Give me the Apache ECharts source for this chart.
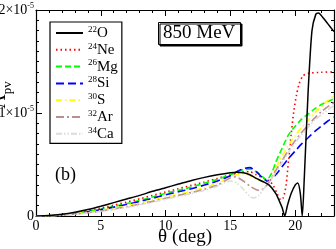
<!DOCTYPE html>
<html><head><meta charset="utf-8">
<script src="https://cdn.jsdelivr.net/npm/echarts@6/dist/echarts.min.js"></script>
<style>html,body{margin:0;padding:0;background:#fff}#c{width:336px;height:249px}</style>
</head><body><div id="c"></div>
<script>
// values of A_pv in units of 1e-5, theta in degrees
const theta22O = [0,1,2,3,4,5,6,7,8,9,10,11,12,13,14,15,15.5,16,16.5,17,17.5,18,18.5,18.8,19,19.2,19.4,19.7,20,20.2,20.4,20.55,20.7,21,21.3,21.6,21.8,22,22.5,23];
const apv22O   = [0,0.004,0.016,0.036,0.063,0.095,0.13,0.165,0.2,0.24,0.275,0.31,0.345,0.375,0.4,0.42,0.425,0.42,0.4,0.365,0.335,0.3,0.22,0.14,0.08,0,0.1,0.22,0.3,0.32,0.22,0,0.35,1.2,1.8,1.96,1.97,1.95,1.87,1.79];
const theta24Ne = [0,1,2,3,4,5,6,7,8,9,10,11,12,13,14,15,15.5,16,16.5,17,17.5,18,18.3,18.6,18.9,19.1,19.3,19.5,19.7,19.9,20.1,20.3,20.6,21,22,23];
const apv24Ne   = [0,0.003,0.012,0.028,0.05,0.076,0.105,0.135,0.167,0.2,0.233,0.265,0.298,0.33,0.365,0.4,0.415,0.43,0.43,0.4,0.37,0.34,0.3,0.22,0.155,0.18,0.3,0.55,0.8,1.02,1.17,1.28,1.36,1.385,1.395,1.4];
const theta26Mg = [0,1,2,3,4,5,6,7,8,9,10,11,12,13,14,15,15.5,16,16.5,17,17.5,17.8,18.2,18.5,19,19.5,20,20.5,21,21.5,22,22.5,23];
const apv26Mg   = [0,0.003,0.011,0.025,0.045,0.066,0.092,0.12,0.15,0.185,0.22,0.25,0.282,0.318,0.357,0.4,0.43,0.45,0.455,0.43,0.38,0.35,0.42,0.52,0.66,0.79,0.87,0.94,0.99,1.04,1.08,1.11,1.14];
const theta28Si = [0,1,2,3,4,5,6,7,8,9,10,11,12,13,14,15,15.5,16,16.5,17,17.5,17.9,18.5,19,19.5,20,20.5,21,21.5,22,22.5,23];
const apv28Si   = [0,0.003,0.01,0.023,0.042,0.062,0.086,0.112,0.14,0.172,0.205,0.235,0.265,0.3,0.34,0.39,0.43,0.46,0.47,0.43,0.37,0.335,0.4,0.48,0.56,0.63,0.7,0.76,0.82,0.87,0.92,0.96];
const theta30S = [0,1,2,3,4,5,6,7,8,9,10,11,12,13,14,15,15.5,16,16.5,17,17.5,18,18.5,19,19.5,20,20.5,21,21.5,22,22.5,23];
const apv30S   = [0,0.002,0.009,0.02,0.036,0.054,0.076,0.1,0.127,0.155,0.185,0.21,0.24,0.275,0.32,0.37,0.4,0.41,0.395,0.36,0.335,0.33,0.46,0.58,0.69,0.78,0.86,0.93,1.0,1.06,1.12,1.17];
const theta32Ar = [0,1,2,3,4,5,6,7,8,9,10,11,12,13,14,15,15.4,16,16.5,17,17.3,17.6,18,18.5,19,19.5,20,20.5,21,21.5,22,22.5,23];
const apv32Ar   = [0,0.002,0.008,0.018,0.032,0.048,0.068,0.09,0.115,0.142,0.172,0.2,0.228,0.26,0.3,0.37,0.38,0.34,0.29,0.255,0.25,0.27,0.33,0.44,0.54,0.64,0.73,0.81,0.88,0.95,1.01,1.06,1.1];
const theta34Ca = [0,1,2,3,4,5,6,7,8,9,10,11,12,13,14,14.5,15,15.5,16,16.5,16.8,17.2,17.6,18,18.5,19,19.5,20,20.5,21,21.5,22,22.5,23];
const apv34Ca   = [0,0.002,0.007,0.016,0.029,0.044,0.063,0.084,0.108,0.134,0.163,0.19,0.218,0.25,0.29,0.32,0.34,0.32,0.26,0.19,0.175,0.2,0.27,0.33,0.42,0.52,0.62,0.71,0.79,0.86,0.93,0.98,1.03,1.07];
const xTicks = [0,5,10,15,20];
const yTicks = [0,1,2];

const SERIF = 'Liberation Serif';
function zip(a,b){return a.map((v,i)=>[v,b[i]]);}
const defs = [
  {name:'22O', x:theta22O, y:apv22O, color:'#000000', type:'solid', w:1.5},
  {name:'24Ne', x:theta24Ne, y:apv24Ne, color:'#ff0000', type:[1.5,3], w:1.6},
  {name:'26Mg', x:theta26Mg, y:apv26Mg, color:'#00ff00', type:[6,3], w:1.6},
  {name:'28Si', x:theta28Si, y:apv28Si, color:'#0000ff', type:[8,4], w:1.6},
  {name:'30S', x:theta30S, y:apv30S, color:'#ffff00', type:[6,3,1.5,3], w:1.6},
  {name:'32Ar', x:theta32Ar, y:apv32Ar, color:'#bc8f8f', type:[8,3,2,3], w:1.6},
  {name:'34Ca', x:theta34Ca, y:apv34Ca, color:'#dcdcdc', type:[6,2,1.5,2,1.5,2], w:1.6}
];
const series = defs.map(d=>({
  name:d.name, type:'line', data:zip(d.x,d.y), symbol:'none', smooth:0.25,
  xAxisIndex:0, yAxisIndex:0,
  lineStyle:{color:d.color, type:d.type, width:d.w}, itemStyle:{color:d.color},
  emphasis:{disabled:true}, animation:false, z: d.name==='22O'?3:2
}));
const axCommon = {
  axisLine:{onZero:false, lineStyle:{color:'#000', width:1.2}},
  splitLine:{show:false},
  axisTick:{inside:true, length:6, lineStyle:{color:'#000'}}
};
const chart = echarts.init(document.getElementById('c'), null, {renderer:'canvas'});
chart.setOption({
  animation:false,
  grid:{left:36, top:10, right:2, bottom:33, outerBoundsMode:'none', containLabel:false},
  title:[
    {text:'850 MeV', left:158, top:22, padding:[2,5], borderColor:'#000', borderWidth:1,
     backgroundColor:'#fff', shadowColor:'#000', shadowOffsetX:1.5, shadowOffsetY:1.5, shadowBlur:0,
     textStyle:{fontFamily:SERIF, fontSize:19, fontWeight:'normal', color:'#000'}},
    {text:'(b)', left:55, top:166, padding:0,
     textStyle:{fontFamily:SERIF, fontSize:18, fontWeight:'normal', color:'#000'}}
  ],
  legend:{
    left:50, top:22, orient:'vertical', itemWidth:27, itemHeight:14, itemGap:1.3,
    padding:[3,4,2,5], borderColor:'#000', borderWidth:1.2, backgroundColor:'#fff',
    selectedMode:false, itemStyle:{opacity:0},
    data:defs.map(d=>d.name),
    formatter:n=>{const m=n.match(/^(\d+)(\D+)$/);return '{s|'+m[1]+'}{n|'+m[2]+'}';},
    textStyle:{fontFamily:SERIF, color:'#000', rich:{
      s:{fontFamily:SERIF, fontSize:9, padding:[0,0,7,0], color:'#000'},
      n:{fontFamily:SERIF, fontSize:15, color:'#000', lineHeight:14}
    }}
  },
  xAxis:[
    Object.assign({type:'value', min:0, max:23, interval:5, position:'bottom',
      name:'θ (deg)', nameLocation:'middle', nameGap:12, nameMoveOverlap:false,
      nameTextStyle:{fontFamily:SERIF, fontSize:19, color:'#000'},
      axisLabel:{fontFamily:SERIF, fontSize:14, color:'#000', margin:3, showMaxLabel:false,
        formatter:v=>xTicks.includes(v)?String(v):''}}, axCommon,
      {minorTick:{show:true, length:3, splitNumber:5, lineStyle:{color:'#000'}}}),
    Object.assign({type:'value', min:0, max:23, interval:5, position:'top',
      axisLabel:{show:false}}, axCommon,
      {minorTick:{show:true, length:3, splitNumber:5, lineStyle:{color:'#000'}}})
  ],
  yAxis:[
    Object.assign({type:'value', min:0, max:2, interval:1, position:'left',
      name:'{a|A}{b|pv}', nameLocation:'middle', nameRotate:90, nameGap:22, nameMoveOverlap:false,
      nameTextStyle:{padding:[0,0,0,36], rich:{
        a:{fontFamily:SERIF, fontSize:20, color:'#000'},
        b:{fontFamily:SERIF, fontSize:13, color:'#000', padding:[0,0,0,0], verticalAlign:'bottom', lineHeight:28}}},
      axisLabel:{fontFamily:SERIF, fontSize:14, color:'#000', margin:2,
        formatter:v=>yTicks.includes(v)?(v===0?'{m|0}':'{m|'+v+'×10}{e|-5}'):'',
        rich:{m:{fontFamily:SERIF, fontSize:14, color:'#000'},
              e:{fontFamily:SERIF, fontSize:8, color:'#000', padding:[0,0,8,0]}}}}, axCommon,
      {minorTick:{show:true, length:3, splitNumber:10, lineStyle:{color:'#000'}}}),
    Object.assign({type:'value', min:0, max:2, interval:1, position:'right',
      axisLabel:{show:false}}, axCommon,
      {minorTick:{show:true, length:3, splitNumber:10, lineStyle:{color:'#000'}}})
  ],
  series:series
});
</script></body></html>
